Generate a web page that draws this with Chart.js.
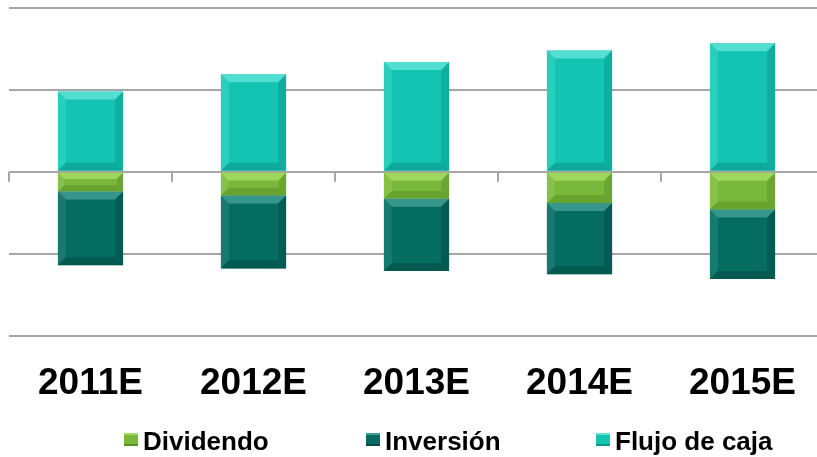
<!DOCTYPE html>
<html>
<head>
<meta charset="utf-8">
<script src="https://cdn.jsdelivr.net/npm/chart.js@4"></script>
<style>
  html, body { margin: 0; padding: 0; background: #fff; overflow: hidden; }
  #wrap { position: absolute; left: 0; top: 0; width: 840px; height: 457px; }
</style>
</head>
<body>
<div id="wrap"><canvas id="chart" width="840" height="457"></canvas></div>
<script>
// categories and series (one unit = one gridline step)
var years = ["2011E", "2012E", "2013E", "2014E", "2015E"];
var dividendo = [-0.24, -0.29, -0.33, -0.38, -0.46];
var inversion = [-0.90, -0.89, -0.88, -0.87, -0.85];
var flujoCaja = [0.98, 1.19, 1.34, 1.48, 1.57];

// bevel shades per series: light top/left, dark bottom/right
var bevel = [
  { light: "#a4dc62", dark: "#5a8f26" },
  { light: "#3f9d93", dark: "#024a43" },
  { light: "#5ee3d6", dark: "#0c9688" }
];
var legendX = [124, 366, 596];
var font = "Liberation Sans, Arial, sans-serif";

var bevelBars = {
  id: "bevelBars",
  afterDatasetsDraw: function(chart) {
    var ctx = chart.ctx;
    chart.data.datasets.forEach(function(ds, di) {
      chart.getDatasetMeta(di).data.forEach(function(bar) {
        var l = bar.x - bar.width / 2, r = bar.x + bar.width / 2;
        var t = Math.min(bar.y, bar.base), b = Math.max(bar.y, bar.base);
        var d = Math.min(8, (b - t) / 3);
        ctx.save();
        ctx.globalAlpha = 0.85;
        ctx.fillStyle = bevel[di].light;
        ctx.beginPath();
        ctx.moveTo(l, t); ctx.lineTo(r, t); ctx.lineTo(r - d, t + d); ctx.lineTo(l + d, t + d);
        ctx.closePath(); ctx.fill();
        ctx.globalAlpha = 0.3;
        ctx.beginPath();
        ctx.moveTo(l, t); ctx.lineTo(l + d, t + d); ctx.lineTo(l + d, b - d); ctx.lineTo(l, b);
        ctx.closePath(); ctx.fill();
        ctx.globalAlpha = 0.55;
        ctx.fillStyle = bevel[di].dark;
        ctx.beginPath();
        ctx.moveTo(l, b); ctx.lineTo(r, b); ctx.lineTo(r - d, b - d); ctx.lineTo(l + d, b - d);
        ctx.closePath(); ctx.fill();
        ctx.globalAlpha = 0.45;
        ctx.beginPath();
        ctx.moveTo(r, t); ctx.lineTo(r - d, t + d); ctx.lineTo(r - d, b - d); ctx.lineTo(r, b);
        ctx.closePath(); ctx.fill();
        ctx.restore();
      });
    });
  }
};

// little ticks that hang under the zero line between the categories
var zeroTicks = {
  id: "zeroTicks",
  afterDatasetsDraw: function(chart) {
    var x = chart.scales.x, y = chart.scales.y;
    var ctx = chart.ctx;
    var y0 = y.getPixelForValue(0);
    var step = (x.right - x.left) / years.length;
    ctx.save();
    ctx.strokeStyle = "#a6a6a6";
    ctx.lineWidth = 2;
    for (var i = 0; i <= years.length; i++) {
      var px = Math.round(x.left + i * step);
      ctx.beginPath();
      ctx.moveTo(px, y0);
      ctx.lineTo(px, y0 + 10);
      ctx.stroke();
    }
    ctx.restore();
  }
};

// legend spread out like the original
var wideLegend = {
  id: "wideLegend",
  afterDraw: function(chart) {
    var ctx = chart.ctx;
    ctx.save();
    ctx.font = "bold 26px " + font;
    ctx.textBaseline = "alphabetic";
    chart.data.datasets.forEach(function(ds, i) {
      var bx = legendX[i];
      ctx.fillStyle = ds.backgroundColor;
      ctx.fillRect(bx, 433, 14, 13);
      ctx.fillStyle = bevel[i].light;
      ctx.fillRect(bx, 433, 14, 2);
      ctx.fillStyle = bevel[i].dark;
      ctx.fillRect(bx, 444, 14, 2);
      ctx.fillStyle = "#000";
      ctx.fillText(ds.label, bx + 19, 450);
    });
    ctx.restore();
  }
};

var ctx = document.getElementById("chart").getContext("2d");
var chart = new Chart(ctx, {
  type: "bar",
  data: {
    labels: years,
    datasets: [
      { label: "Dividendo", data: dividendo, backgroundColor: "#7ab83b", borderWidth: 0 },
      { label: "Inversión", data: inversion, backgroundColor: "#046c61", borderWidth: 0 },
      { label: "Flujo de caja", data: flujoCaja, backgroundColor: "#13c4b2", borderWidth: 0 }
    ]
  },
  options: {
    responsive: false,
    animation: false,
    layout: { padding: { left: 9, right: 16, top: 8, bottom: 33 } },
    datasets: { bar: { categoryPercentage: 1, barPercentage: 0.4 } },
    scales: {
      x: {
        stacked: true,
        grid: { display: false },
        border: { display: false },
        ticks: {
          color: "#000",
          padding: 18,
          font: { family: font, size: 37, weight: "bold" }
        }
      },
      y: {
        stacked: true,
        min: -2,
        max: 2,
        ticks: { display: false, stepSize: 1 },
        grid: { color: "#a6a6a6", lineWidth: 2, drawTicks: false },
        border: { display: false }
      }
    },
    plugins: {
      legend: { display: false },
      tooltip: { enabled: false }
    }
  },
  plugins: [bevelBars, zeroTicks, wideLegend]
});
</script>
</body>
</html>
